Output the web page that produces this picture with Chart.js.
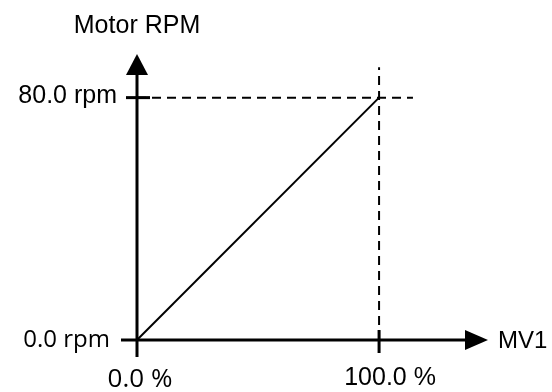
<!DOCTYPE html>
<html>
<head>
<meta charset="utf-8">
<script src="https://cdn.jsdelivr.net/npm/chart.js@4/dist/chart.umd.min.js"></script>
<style>
  html, body { margin: 0; padding: 0; background: #fff; }
  #wrap { width: 552px; height: 392px; }
</style>
</head>
<body>
<div id="wrap"><canvas id="myChart"></canvas></div>
<script>
// data
const mvPercent = [0, 100];
const motorRpm = [0, 80];
const xTickValues = [0, 100];
const xTickLabels = ['0.0 %', '100.0 %'];
const yTickValues = [0, 80];
const yTickLabels = ['0.0 rpm', '80.0 rpm'];
const xTitle = 'MV1';
const yTitle = 'Motor RPM';

// dashed guide lines reaching to the max point
const guideH = [{ x: 0, y: 80 }, { x: 114, y: 80 }];
const guideV = [{ x: 100, y: 0 }, { x: 100, y: 90 }];

const points = mvPercent.map((v, i) => ({ x: v, y: motorRpm[i] }));

// axes, arrows, ticks and labels drawn on the scales
const axesPlugin = {
  id: 'axesPlugin',
  afterDatasetsDraw(chart) {
    const ctx = chart.ctx;
    const xs = chart.scales.x, ys = chart.scales.y;
    const x0 = xs.getPixelForValue(0), y0 = ys.getPixelForValue(0);
    const top = chart.chartArea.top, right = chart.chartArea.right;
    ctx.save();
    ctx.strokeStyle = '#000';
    ctx.fillStyle = '#000';
    ctx.lineWidth = 3;
    // y axis
    ctx.beginPath();
    ctx.moveTo(x0, y0 + 17);
    ctx.lineTo(x0, top + 20);
    ctx.stroke();
    ctx.beginPath();
    ctx.moveTo(x0, top);
    ctx.lineTo(x0 - 11, top + 21);
    ctx.lineTo(x0 + 11, top + 21);
    ctx.closePath();
    ctx.fill();
    // x axis
    ctx.beginPath();
    ctx.moveTo(x0 - 16, y0);
    ctx.lineTo(right - 20, y0);
    ctx.stroke();
    ctx.beginPath();
    ctx.moveTo(right, y0);
    ctx.lineTo(right - 23, y0 - 10);
    ctx.lineTo(right - 23, y0 + 10);
    ctx.closePath();
    ctx.fill();
    // ticks
    const yt = ys.getPixelForValue(yTickValues[1]);
    ctx.beginPath();
    ctx.moveTo(x0 - 11, yt);
    ctx.lineTo(x0 + 13, yt);
    ctx.stroke();
    const xt = xs.getPixelForValue(xTickValues[1]);
    ctx.beginPath();
    ctx.moveTo(xt, y0 - 10);
    ctx.lineTo(xt, y0 + 13);
    ctx.stroke();

    // labels
    ctx.textBaseline = 'alphabetic';
    ctx.font = '25px "Liberation Sans", Arial, sans-serif';
    ctx.textAlign = 'center';
    ctx.fillText(yTitle, x0, 33);
    ctx.textAlign = 'right';
    ctx.fillText(yTickLabels[1], x0 - 20, yt + 5);
    ctx.font = '24px "Liberation Sans", Arial, sans-serif';
    ctx.textAlign = 'left';
    ctx.fillText(xTitle, right + 10, y0 + 8);
    ctx.font = '25px "Liberation Sans", Arial, sans-serif';
    ctx.textAlign = 'center';
    ctx.fillText(xTickLabels[1], xt + 11, y0 + 45);
    ctx.font = '24px "Open Sans", sans-serif';
    ctx.textAlign = 'right';
    ctx.fillText(yTickLabels[0], x0 - 27, y0 + 7);
    ctx.font = '26px "Open Sans", sans-serif';
    ctx.textAlign = 'center';
    ctx.fillText(xTickLabels[0], xs.getPixelForValue(xTickValues[0]) + 3, y0 + 47);
    ctx.restore();
  }
};

new Chart(document.getElementById('myChart'), {
  type: 'scatter',
  data: {
    datasets: [
      {
        data: guideH,
        showLine: true,
        borderColor: '#000',
        borderWidth: 2,
        borderDash: [9, 6],
        pointRadius: 0
      },
      {
        data: guideV,
        showLine: true,
        borderColor: '#000',
        borderWidth: 2,
        borderDash: [9, 6],
        pointRadius: 0
      },
      {
        data: points,
        showLine: true,
        borderColor: '#000',
        borderWidth: 2,
        pointRadius: 0
      }
    ]
  },
  options: {
    responsive: true,
    maintainAspectRatio: false,
    animation: false,
    layout: { padding: { left: 137, right: 64, top: 54, bottom: 52 } },
    plugins: { legend: { display: false }, tooltip: { enabled: false } },
    scales: {
      x: { type: 'linear', display: false, min: 0, max: 145 },
      y: { type: 'linear', display: false, min: 0, max: 94.4 }
    }
  },
  plugins: [axesPlugin]
});
</script>
</body>
</html>
